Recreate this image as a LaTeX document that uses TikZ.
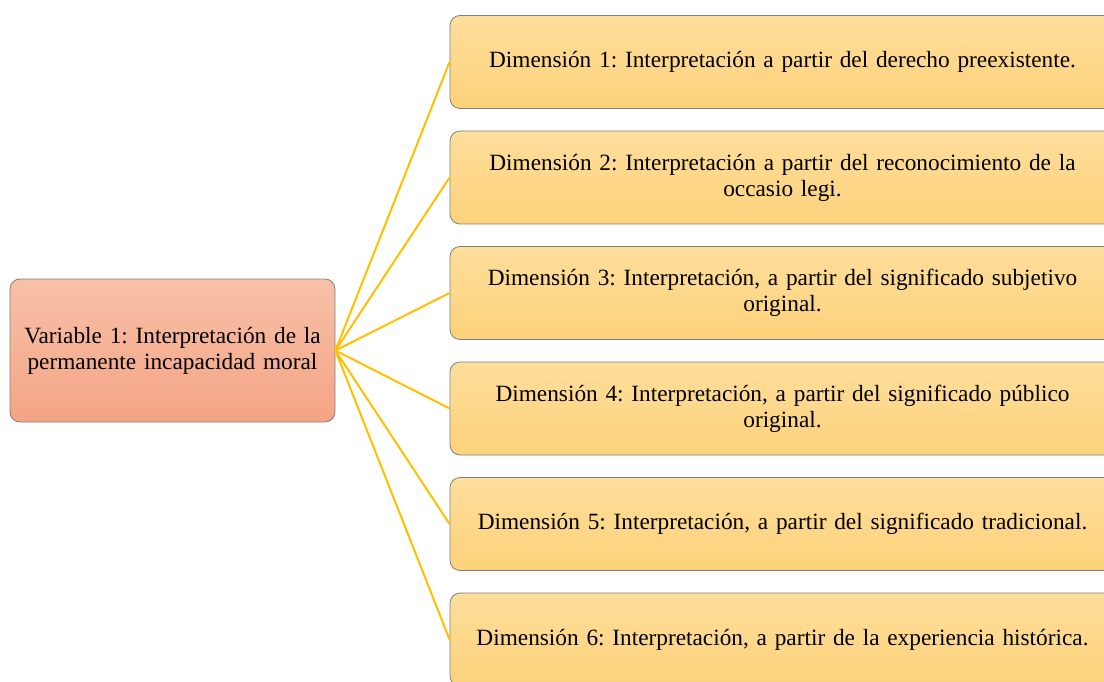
\documentclass[tikz,border=0pt]{standalone}
\usepackage{fontspec}
\setmainfont{Liberation Serif}
\usetikzlibrary{positioning}

\definecolor{varTop}{HTML}{F7C1A8}
\definecolor{varBot}{HTML}{F4A484}
\definecolor{dimTop}{HTML}{FEDE9C}
\definecolor{dimBot}{HTML}{FDD27A}
\definecolor{boxline}{HTML}{808080}
\definecolor{linkcolor}{HTML}{FFC000}

\tikzset{
  varbox/.style={draw=boxline,line width=0.8pt,rounded corners=10pt,
    top color=varTop,bottom color=varBot,
    minimum width=325pt,minimum height=143pt,text width=320pt,align=center,
    inner sep=0pt,font=\fontsize{23.3}{26}\selectfont\frenchspacing},
  dimbox/.style={draw=boxline,line width=0.8pt,rounded corners=10pt,
    top color=dimTop,bottom color=dimBot,
    minimum width=665pt,minimum height=93pt,text width=660pt,align=center,
    inner sep=0pt,font=\fontsize{23.3}{26}\selectfont\frenchspacing},
  link/.style={draw=linkcolor,line width=2pt}
}

\begin{document}
\begin{tikzpicture}[x=1pt,y=-1pt]

\useasboundingbox (0,0) rectangle (1104,682);
\clip (0,0) rectangle (1104,682);

% variable
\node[varbox] (var) at (172.5,350.5)
  {Variable 1: Interpretación de la\\permanente incapacidad moral};

% dimensions
\foreach \i/\txt in {
  1/{Dimensión 1: Interpretación a partir del derecho preexistente.},
  2/{Dimensión 2: Interpretación a partir del reconocimiento de la\\occasio legi.},
  3/{Dimensión 3: Interpretación, a partir del significado subjetivo\\original.},
  4/{Dimensión 4: Interpretación, a partir del significado público\\original.},
  5/{Dimensión 5: Interpretación, a partir del significado tradicional.},
  6/{Dimensión 6: Interpretación, a partir de la experiencia histórica.}}
{
  \node[dimbox] (d\i) at (782.5,{62+115.5*(\i-1)}) {\txt};
  \draw[link] (var.east) -- (d\i.west);
}

\end{tikzpicture}
\end{document}
